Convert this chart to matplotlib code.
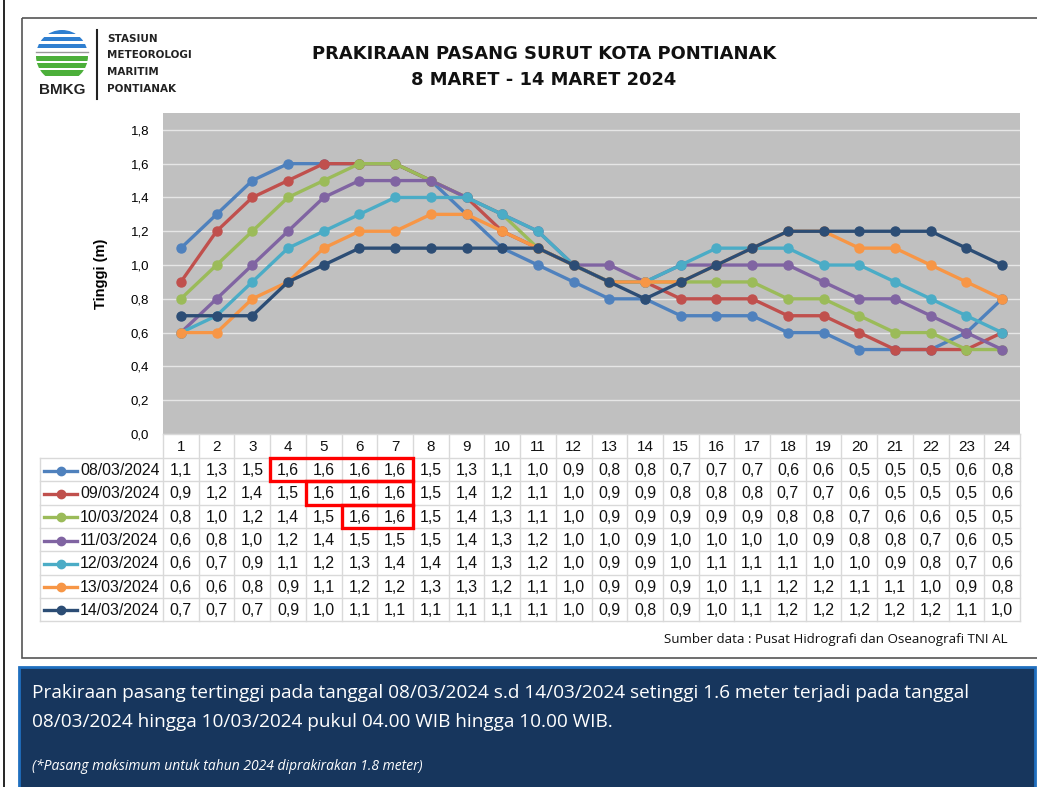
import matplotlib
matplotlib.use('Agg')
import matplotlib.pyplot as plt
from matplotlib.patches import Rectangle, Circle

# jam 1..24
hours = list(range(1, 25))
dates = ['08/03/2024', '09/03/2024', '10/03/2024', '11/03/2024',
         '12/03/2024', '13/03/2024', '14/03/2024']

d08 = [1.1, 1.3, 1.5, 1.6, 1.6, 1.6, 1.6, 1.5, 1.3, 1.1, 1.0, 0.9, 0.8, 0.8, 0.7, 0.7, 0.7, 0.6, 0.6, 0.5, 0.5, 0.5, 0.6, 0.8]
d09 = [0.9, 1.2, 1.4, 1.5, 1.6, 1.6, 1.6, 1.5, 1.4, 1.2, 1.1, 1.0, 0.9, 0.9, 0.8, 0.8, 0.8, 0.7, 0.7, 0.6, 0.5, 0.5, 0.5, 0.6]
d10 = [0.8, 1.0, 1.2, 1.4, 1.5, 1.6, 1.6, 1.5, 1.4, 1.3, 1.1, 1.0, 0.9, 0.9, 0.9, 0.9, 0.9, 0.8, 0.8, 0.7, 0.6, 0.6, 0.5, 0.5]
d11 = [0.6, 0.8, 1.0, 1.2, 1.4, 1.5, 1.5, 1.5, 1.4, 1.3, 1.2, 1.0, 1.0, 0.9, 1.0, 1.0, 1.0, 1.0, 0.9, 0.8, 0.8, 0.7, 0.6, 0.5]
d12 = [0.6, 0.7, 0.9, 1.1, 1.2, 1.3, 1.4, 1.4, 1.4, 1.3, 1.2, 1.0, 0.9, 0.9, 1.0, 1.1, 1.1, 1.1, 1.0, 1.0, 0.9, 0.8, 0.7, 0.6]
d13 = [0.6, 0.6, 0.8, 0.9, 1.1, 1.2, 1.2, 1.3, 1.3, 1.2, 1.1, 1.0, 0.9, 0.9, 0.9, 1.0, 1.1, 1.2, 1.2, 1.1, 1.1, 1.0, 0.9, 0.8]
d14 = [0.7, 0.7, 0.7, 0.9, 1.0, 1.1, 1.1, 1.1, 1.1, 1.1, 1.1, 1.0, 0.9, 0.8, 0.9, 1.0, 1.1, 1.2, 1.2, 1.2, 1.2, 1.2, 1.1, 1.0]
series = [d08, d09, d10, d11, d12, d13, d14]

colors = ['#4F81BD', '#C0504D', '#9BBB59', '#8064A2', '#4BACC6', '#F79646', '#2C4D75']

# kotak merah: (baris, kolom awal, kolom akhir) -> jam pasang tertinggi
highlights = [(0, 4, 7), (1, 5, 7), (2, 6, 7)]

yticks = [0.0, 0.2, 0.4, 0.6, 0.8, 1.0, 1.2, 1.4, 1.6, 1.8]

W, H = 1037, 787
fig = plt.figure(figsize=(W / 100, H / 100), dpi=100)
fig.patch.set_facecolor('white')

# overlay in pixel coordinates for frame, table, header
bg = fig.add_axes([0, 0, 1, 1])
bg.set_xlim(0, W)
bg.set_ylim(H, 0)
bg.axis('off')

# outer lines
bg.plot([4, 4], [0, H], color='black', lw=1.2)
bg.add_patch(Rectangle((22, 18), 1100, 640, fill=False, ec='#555555', lw=1.2))

# logo
cx, cy, r = 62, 56, 26
clip = Circle((cx, cy), r, transform=bg.transData)
for y0, y1 in [(30, 34), (37, 41), (44, 48)]:
    p = Rectangle((30, y0), 70, y1 - y0, color='#2F7FD0', lw=0)
    bg.add_patch(p)
    p.set_clip_path(clip)
bg.plot([36, 88], [52, 52], color='#999999', lw=1)
for y0, y1 in [(56, 61), (63, 68), (70, 76)]:
    p = Rectangle((30, y0), 70, y1 - y0, color='#4CAF3A', lw=0)
    bg.add_patch(p)
    p.set_clip_path(clip)
bg.text(62, 90, 'BMKG', ha='center', va='center', fontsize=11, fontweight='bold',
        family='Liberation Sans', color='#222222')
bg.plot([97, 97], [30, 99], color='#222222', lw=1.5)
for i, s in enumerate(['STASIUN', 'METEOROLOGI', 'MARITIM', 'PONTIANAK']):
    bg.text(107, 39 + i * 16.5, s, ha='left', va='center', fontsize=7.5,
            fontweight='bold', family='DejaVu Sans', color='#222222')

bg.text(544, 54, 'PRAKIRAAN PASANG SURUT KOTA PONTIANAK', ha='center', va='center',
        fontsize=12.9, fontweight='bold', family='DejaVu Sans', color='#111111')
bg.text(544, 80, '8 MARET - 14 MARET 2024', ha='center', va='center',
        fontsize=12.9, fontweight='bold', family='DejaVu Sans', color='#111111')

# chart
x0, x1, ytop, ybot = 163, 1020, 113, 434
ax = fig.add_axes([x0 / W, 1 - ybot / H, (x1 - x0) / W, (ybot - ytop) / H])
ax.set_facecolor('#C0C0C0')
for i, vals in enumerate(series):
    ax.plot(hours, vals, color=colors[i], lw=2.4, marker='o', ms=6.5,
            solid_capstyle='round', zorder=3 + i)
ax.set_xlim(0.5, 24.5)
ax.set_ylim(0, 1.9)
ax.set_yticks(yticks)
ax.set_yticklabels([('%.1f' % v).replace('.', ',') for v in yticks],
                   fontsize=9.5, family='Liberation Sans')
ax.tick_params(axis='y', length=0, pad=10)
ax.set_xticks([])
ax.grid(axis='y', color='#E6E6E6', lw=1)
ax.set_axisbelow(True)
for sp in ax.spines.values():
    sp.set_visible(False)
ax.set_ylabel('Tinggi (m)', fontsize=10.5, fontweight='bold', family='Liberation Sans',
              labelpad=16)

# data table
cw = (x1 - x0) / 24
hdr_bot = 458
rh = 23.3
lab_x = 40
gc = '#D9D9D9'
n = len(series)
tab_bot = hdr_bot + n * rh
for k in range(25):
    xx = x0 + k * cw
    bg.plot([xx, xx], [ybot, tab_bot], color=gc, lw=1)
bg.plot([x0, x1], [ybot, ybot], color=gc, lw=1)
bg.plot([lab_x, lab_x], [hdr_bot, tab_bot], color=gc, lw=1)
for j in range(n + 1):
    yy = hdr_bot + j * rh
    bg.plot([lab_x, x1], [yy, yy], color=gc, lw=1)
for k, h in enumerate(hours):
    bg.text(x0 + (k + 0.5) * cw, (ybot + hdr_bot) / 2 + 1, str(h), ha='center', va='center',
            fontsize=11, family='Liberation Sans', color='#111111')
for j, vals in enumerate(series):
    yc = hdr_bot + (j + 0.5) * rh + 1
    bg.plot([44, 77], [yc, yc], color=colors[j], lw=2.4)
    bg.plot([60.5], [yc], 'o', color=colors[j], ms=6)
    bg.text(80, yc, dates[j], ha='left', va='center', fontsize=11.4,
            family='Liberation Sans', color='#111111')
    for k, v in enumerate(vals):
        bg.text(x0 + (k + 0.5) * cw, yc, ('%.1f' % v).replace('.', ','), ha='center',
                va='center', fontsize=11.4, family='Liberation Sans', color='#111111')
for row, c0, c1 in highlights:
    bg.add_patch(Rectangle((x0 + (c0 - 1) * cw, hdr_bot + row * rh), (c1 - c0 + 1) * cw, rh,
                           fill=False, ec='#FF0000', lw=2.4, zorder=10))

bg.text(1008, 640, 'Sumber data : Pusat Hidrografi dan Oseanografi TNI AL', ha='right',
        va='center', fontsize=9.6, family='Open Sans', color='#111111')

# kotak keterangan
bg.add_patch(Rectangle((19, 667), 1016, 130, fc='#17365D', ec='#1F6FBF', lw=2))
bg.text(32, 693, 'Prakiraan pasang tertinggi pada tanggal 08/03/2024 s.d 14/03/2024 setinggi 1.6 meter terjadi pada tanggal',
        ha='left', va='center', fontsize=13.7, family='Open Sans', color='white')
bg.text(32, 722, '08/03/2024 hingga 10/03/2024 pukul 04.00 WIB hingga 10.00 WIB.',
        ha='left', va='center', fontsize=13.7, family='Open Sans', color='white')
bg.text(32, 767, '(*Pasang maksimum untuk tahun 2024 diprakirakan 1.8 meter)',
        ha='left', va='center', fontsize=10, style='italic', family='Open Sans', color='white')

fig.savefig('out.png', dpi=100)
